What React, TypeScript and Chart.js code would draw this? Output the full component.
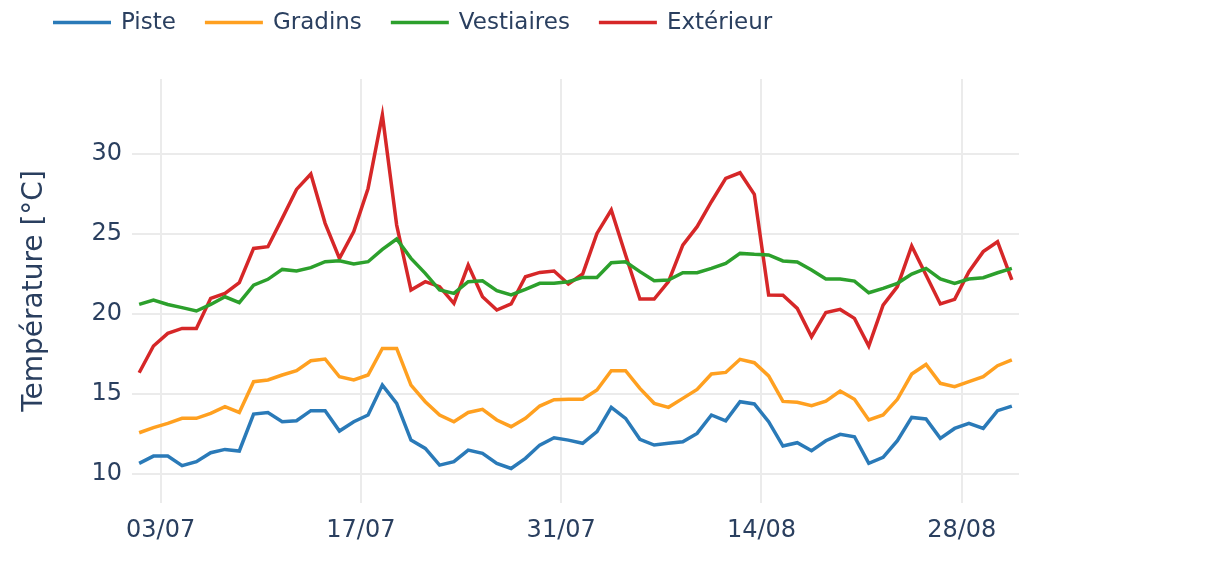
import React, { useEffect, useRef } from "react";
import { Chart, registerables } from "chart.js";

Chart.register(...registerables);

// Days since 01/07 00:00 (daily values, plotted at noon)
const dayIndex: number[] = Array.from({ length: 62 }, (_, i) => i + 0.5);

const xTickValues = [2, 16, 30, 44, 58];
const xTickLabels = ["03/07", "17/07", "31/07", "14/08", "28/08"];
const yTickValues = [10, 15, 20, 25, 30];

const piste = [
  10.67, 11.12, 11.12, 10.52, 10.77, 11.33, 11.54, 11.44, 13.75, 13.85,
  13.27, 13.33, 13.96, 13.96, 12.69, 13.27, 13.69, 15.56, 14.42, 12.12,
  11.6, 10.56, 10.77, 11.5, 11.29, 10.67, 10.35, 10.98, 11.81, 12.27,
  12.12, 11.92, 12.65, 14.17, 13.48, 12.17, 11.81, 11.92, 12.02, 12.54,
  13.69, 13.33, 14.52, 14.38, 13.27, 11.75, 11.96, 11.46, 12.08, 12.48,
  12.33, 10.67, 11.04, 12.08, 13.54, 13.44, 12.23, 12.85, 13.17, 12.85,
  13.96, 14.25,
];

const gradins = [
  12.58, 12.9, 13.17, 13.48, 13.48, 13.79, 14.21, 13.85, 15.77, 15.88,
  16.19, 16.46, 17.08, 17.19, 16.08, 15.88, 16.19, 17.85, 17.85, 15.56,
  14.52, 13.69, 13.27, 13.85, 14.04, 13.38, 12.96, 13.48, 14.25, 14.65,
  14.67, 14.67, 15.25, 16.46, 16.46, 15.35, 14.42, 14.17, 14.73, 15.29,
  16.25, 16.35, 17.17, 16.96, 16.13, 14.54, 14.48, 14.27, 14.56, 15.19,
  14.67, 13.38, 13.69, 14.67, 16.25, 16.85, 15.67, 15.46, 15.77, 16.08,
  16.77, 17.13,
];

const vestiaires = [
  20.6, 20.88, 20.6, 20.4, 20.19, 20.6, 21.08, 20.71, 21.81, 22.17,
  22.79, 22.69, 22.9, 23.27, 23.33, 23.13, 23.27, 24.04, 24.69, 23.48,
  22.54, 21.5, 21.29, 22.02, 22.08, 21.46, 21.19, 21.54, 21.92, 21.92,
  22.02, 22.29, 22.29, 23.21, 23.27, 22.65, 22.08, 22.13, 22.58, 22.58,
  22.85, 23.17, 23.79, 23.73, 23.69, 23.32, 23.25, 22.75, 22.19, 22.19,
  22.06, 21.33, 21.6, 21.92, 22.5, 22.85, 22.19, 21.92, 22.19, 22.27,
  22.58, 22.85,
];

const exterieur = [
  16.33, 18.0, 18.79, 19.1, 19.1, 20.98, 21.29, 21.96, 24.1, 24.21,
  25.98, 27.79, 28.75, 25.67, 23.48, 25.15, 27.85, 32.44, 25.56, 21.5,
  22.02, 21.71, 20.67, 23.06, 21.08, 20.25, 20.63, 22.33, 22.6, 22.69,
  21.88, 22.5, 25.04, 26.5, 23.69, 20.94, 20.94, 22.02, 24.31, 25.46,
  27.02, 28.48, 28.83, 27.48, 21.19, 21.17, 20.35, 18.58, 20.1, 20.29,
  19.73, 18.0, 20.56, 21.71, 24.25, 22.44, 20.63, 20.92, 22.65, 23.9,
  24.52, 22.13,
];

const seriesNames = ["Piste", "Gradins", "Vestiaires", "Extérieur"];
const seriesColors = ["#2a7ab8", "#ffa020", "#2ca02c", "#d62728"];

const TEXT = "#2a3f5f";
const GRID = "#ebebeb";
const FONT = '"DejaVu Sans", Verdana, sans-serif';

const legendPlugin = {
  id: "plotlyLegend",
  afterDraw(chart: any) {
    const ctx = chart.ctx as CanvasRenderingContext2D;
    ctx.save();
    ctx.font = `23px ${FONT}`;
    ctx.textBaseline = "middle";
    ctx.textAlign = "left";
    let x = 53;
    const y = 22.5;
    chart.data.datasets.forEach((ds: any) => {
      ctx.strokeStyle = ds.borderColor;
      ctx.lineWidth = 3.5;
      ctx.beginPath();
      ctx.moveTo(x, y);
      ctx.lineTo(x + 58, y);
      ctx.stroke();
      x += 58 + 10;
      ctx.fillStyle = TEXT;
      ctx.fillText(ds.label, x, y + 1);
      x += ctx.measureText(ds.label).width + 29;
    });
    ctx.restore();
  },
};

export default function App() {
  const ref = useRef<HTMLCanvasElement | null>(null);

  useEffect(() => {
    document.body.style.margin = "0";
    const canvas = ref.current;
    if (!canvas) return;
    const all = [piste, gradins, vestiaires, exterieur];
    const chart = new Chart(canvas, {
      type: "line",
      data: {
        datasets: all.map((vals, k) => ({
          label: seriesNames[k],
          data: vals.map((v, i) => ({ x: dayIndex[i], y: v })),
          borderColor: seriesColors[k],
          backgroundColor: seriesColors[k],
          borderWidth: 3.5,
          pointRadius: 0,
          tension: 0,
          fill: false,
        })),
      },
      options: {
        animation: false,
        responsive: false,
        layout: { padding: { left: 0, right: 206, top: 79, bottom: 0 } },
        plugins: {
          legend: { display: false },
          tooltip: { enabled: false },
        },
        scales: {
          x: {
            type: "linear",
            min: 0,
            max: 62,
            afterBuildTicks: (s: any) => {
              s.ticks = xTickValues.map((v) => ({ value: v }));
            },
            afterFit: (s: any) => {
              s.height = 62;
            },
            ticks: {
              autoSkip: false,
              maxRotation: 0,
              padding: 13,
              color: TEXT,
              font: { family: FONT, size: 24 },
              callback: (_v: any, i: number) => xTickLabels[i],
            },
            grid: { color: GRID, lineWidth: 2, drawTicks: false },
            border: { display: false },
          },
          y: {
            type: "linear",
            min: 8.19,
            max: 34.69,
            afterBuildTicks: (s: any) => {
              s.ticks = yTickValues.map((v) => ({ value: v }));
            },
            afterFit: (s: any) => {
              s.width = 132;
            },
            ticks: {
              padding: 10,
              color: TEXT,
              font: { family: FONT, size: 24 },
              callback: (v: any) => String(v),
            },
            grid: { color: GRID, lineWidth: 2, drawTicks: false },
            border: { display: false },
            title: {
              display: true,
              text: "Température [°C]",
              color: TEXT,
              font: { family: FONT, size: 28 },
              padding: { top: 18, bottom: 0 },
            },
          },
        },
      },
      plugins: [legendPlugin],
    });
    return () => chart.destroy();
  }, []);

  return (
    <div style={{ width: 1225, height: 565, background: "#fff" }}>
      <canvas ref={ref} width={1225} height={565} style={{ display: "block" }} />
    </div>
  );
}
